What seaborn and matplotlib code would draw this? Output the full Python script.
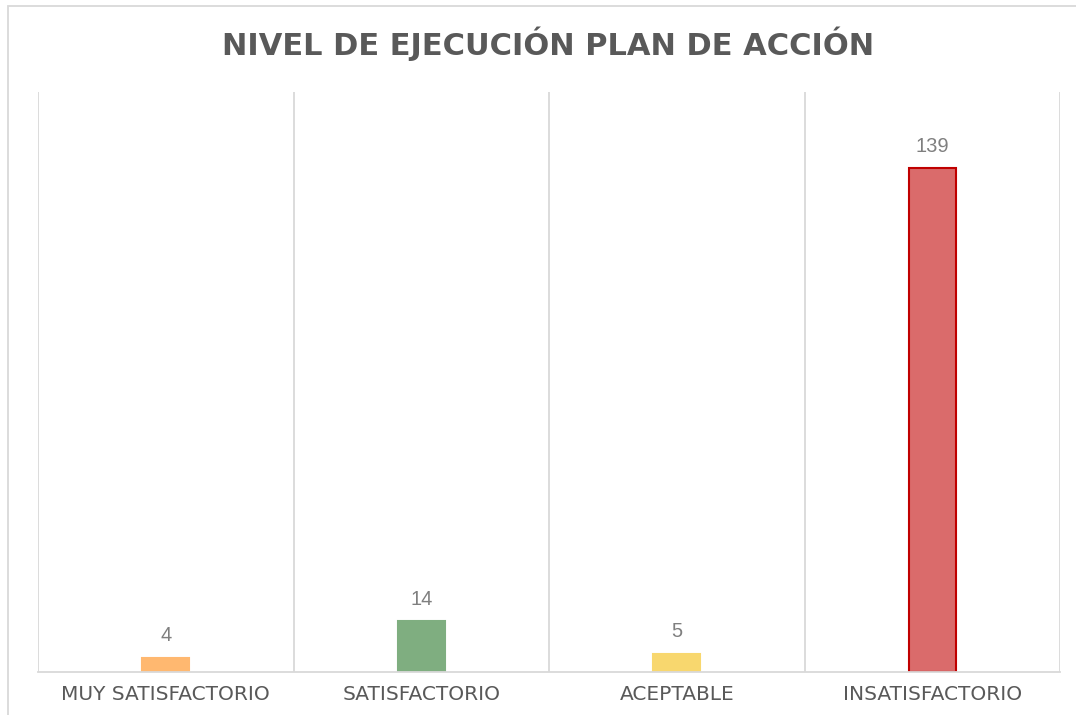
import matplotlib
matplotlib.use("Agg")
import matplotlib.pyplot as plt
import matplotlib.patches as mpatches
import seaborn as sns
import pandas as pd

# data
categorias = ["MUY SATISFACTORIO", "SATISFACTORIO", "ACEPTABLE", "INSATISFACTORIO"]
valores = [4, 14, 5, 139]
colores = ["#FFB870", "#7FAE80", "#F8D76E", "#DA6B6B"]
bordes = ["#FFB870", "#7FAE80", "#F8D76E", "#C00000"]
titulo = "NIVEL DE EJECUCIÓN PLAN DE ACCIÓN"

df = pd.DataFrame({"nivel": categorias, "valor": valores})

sns.set_style("white")
plt.rcParams["font.family"] = ["Liberation Sans", "DejaVu Sans"]

W, H = 1076, 715
fig = plt.figure(figsize=(W / 100, H / 100), dpi=100)
ax = fig.add_axes([38 / W, (H - 672) / H, (1060 - 38) / W, (672 - 92) / H])

sns.barplot(data=df, x="nivel", y="valor", hue="nivel", palette=colores,
            legend=False, width=0.185, ax=ax, saturation=1)
for p, ec in zip(ax.patches, bordes):
    p.set_edgecolor(ec)
    p.set_linewidth(1.5)

# data labels
for i, v in enumerate(valores):
    ax.annotate(str(v), (i, v), xytext=(0, 9), textcoords="offset points",
                ha="center", va="bottom", fontsize=14.5, color="#7F7F7F")

ax.set_xlim(-0.5, 3.5)
ax.set_ylim(0, 160)
ax.set_yticks([])
ax.set_xlabel("")
ax.set_ylabel("")

# vertical gridlines between categories
ax.set_xticks([-0.5, 0.5, 1.5, 2.5, 3.5], minor=True)
ax.grid(True, which="minor", axis="x", color="#D9D9D9", linewidth=1.3)
ax.set_axisbelow(True)
ax.tick_params(axis="x", which="both", length=0, pad=9)
ax.set_xticks(range(len(categorias)))
ax.set_xticklabels(categorias, fontsize=14.5, color="#595959",
                   family=["DejaVu Sans"])

for s in ["top", "left", "right"]:
    ax.spines[s].set_visible(False)
ax.spines["bottom"].set_color("#D9D9D9")
ax.spines["bottom"].set_linewidth(1.3)

fig.text(548 / W, 1 - 44 / H, titulo, ha="center", va="center",
         fontsize=22, fontweight="bold", color="#595959",
         family=["DejaVu Sans"])

# outer frame of the chart area
fig.patches.append(mpatches.Rectangle((8 / W, -0.1), 1.2, 1 - 6 / H + 0.1,
                                      transform=fig.transFigure, fill=False,
                                      edgecolor="#D9D9D9", linewidth=1.3))

fig.savefig("out.png", dpi=100)
